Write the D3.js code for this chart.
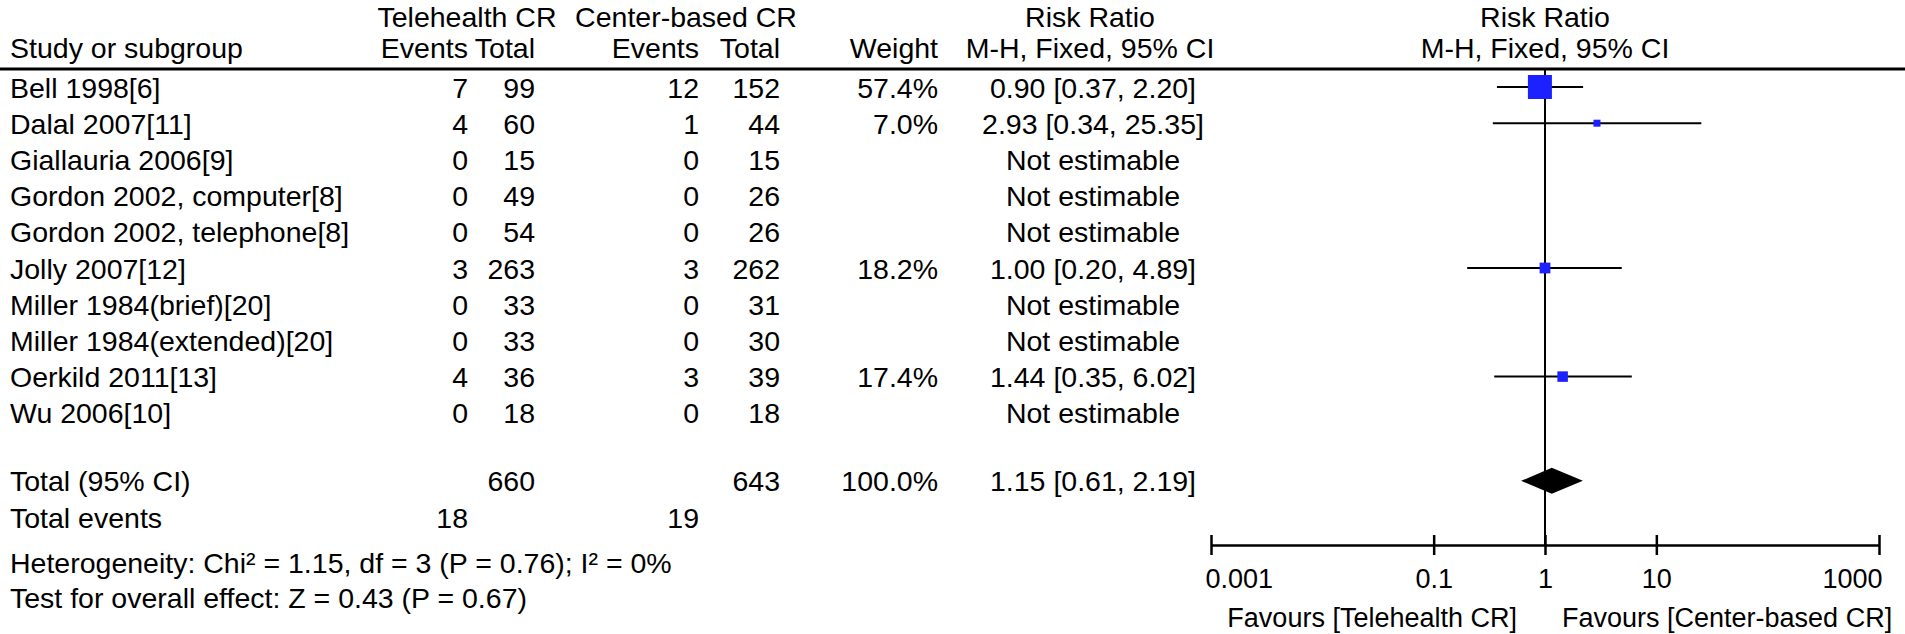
<!DOCTYPE html>
<html lang="en">
<head>
<meta charset="utf-8">
<script src="https://cdn.jsdelivr.net/npm/d3@7"></script>
<style>
  body { margin: 0; background: #fff; }
  svg text { font-family: "Liberation Sans", Arial, Helvetica, sans-serif; font-size: 28.5px; fill: #000; }
  svg .small text, svg text.small { font-size: 27px; }
</style>
</head>
<body>
<div id="chart"></div>
<script>
// study rows
var studies = ["Bell 1998[6]", "Dalal 2007[11]", "Giallauria 2006[9]", "Gordon 2002, computer[8]",
  "Gordon 2002, telephone[8]", "Jolly 2007[12]", "Miller 1984(brief)[20]", "Miller 1984(extended)[20]",
  "Oerkild 2011[13]", "Wu 2006[10]"];
var teleEvents   = [7, 4, 0, 0, 0, 3, 0, 0, 4, 0];
var teleTotal    = [99, 60, 15, 49, 54, 263, 33, 33, 36, 18];
var centerEvents = [12, 1, 0, 0, 0, 3, 0, 0, 3, 0];
var centerTotal  = [152, 44, 15, 26, 26, 262, 31, 30, 39, 18];
var weights      = [57.4, 7.0, null, null, null, 18.2, null, null, 17.4, null];
var riskRatio    = [0.90, 2.93, null, null, null, 1.00, null, null, 1.44, null];
var ciLower      = [0.37, 0.34, null, null, null, 0.20, null, null, 0.35, null];
var ciUpper      = [2.20, 25.35, null, null, null, 4.89, null, null, 6.02, null];

// pooled result
var pooled = {rr: 1.15, lo: 0.61, hi: 2.19, teleTotal: 660, centerTotal: 643, weight: 100.0,
  teleEvents: 18, centerEvents: 19};
var heterogeneity = "Heterogeneity: Chi\u00b2 = 1.15, df = 3 (P = 0.76); I\u00b2 = 0%";
var overallEffect = "Test for overall effect: Z = 0.43 (P = 0.67)";

var axisTicks = [0.001, 0.1, 1, 10, 1000];
var favourLeft = "Favours [Telehealth CR]";
var favourRight = "Favours [Center-based CR]";

var w = 1905, h = 634;
var svg = d3.select("#chart").append("svg").attr("width", w).attr("height", h);

//column x positions
var colStudy = 10, colTeleEv = 468, colTeleTot = 535, colCenEv = 699, colCenTot = 780,
    colWeight = 938, colRR = 1093, colPlot = 1545;

var x = d3.scaleLog().domain([0.001, 1000]).range([1211, 1879]);
var y = d3.scaleLinear().domain([0, 1]).range([87, 123.2]); // row index -> centre
var size = d3.scaleLinear().domain([7, 57.4]).range([7, 24]);
var f2 = d3.format(".2f"), f1 = d3.format(".1f");
var base = 10.5; // baseline offset from row centre

function txt(xp, yp, s, anchor) {
  return svg.append("text").attr("x", xp).attr("y", yp).attr("text-anchor", anchor || "start").text(s);
}

//headers
txt(467, 26.5, "Telehealth CR", "middle");
txt(686, 26.5, "Center-based CR", "middle");
txt(colRR - 3, 26.5, "Risk Ratio", "middle");
txt(colPlot, 26.5, "Risk Ratio", "middle");
txt(colStudy, 58, "Study or subgroup");
txt(colTeleEv, 58, "Events", "end");
txt(colTeleTot, 58, "Total", "end");
txt(colCenEv, 58, "Events", "end");
txt(colCenTot, 58, "Total", "end");
txt(colWeight, 58, "Weight", "end");
txt(colRR - 3, 58, "M-H, Fixed, 95% CI", "middle");
txt(colPlot, 58, "M-H, Fixed, 95% CI", "middle");

svg.append("line").attr("x1", 0).attr("x2", w).attr("y1", 69).attr("y2", 69)
  .attr("stroke", "#000").attr("stroke-width", 3);

//vertical line of no effect
svg.append("line").attr("x1", x(1)).attr("x2", x(1)).attr("y1", 69).attr("y2", 545)
  .attr("stroke", "#000").attr("stroke-width", 2);

//study rows
studies.forEach(function (s, i) {
  var yb = y(i) + base;
  txt(colStudy, yb, s);
  txt(colTeleEv, yb, teleEvents[i], "end");
  txt(colTeleTot, yb, teleTotal[i], "end");
  txt(colCenEv, yb, centerEvents[i], "end");
  txt(colCenTot, yb, centerTotal[i], "end");
  if (weights[i] != null) {
    txt(colWeight, yb, f1(weights[i]) + "%", "end");
    txt(colRR, yb, f2(riskRatio[i]) + " [" + f2(ciLower[i]) + ", " + f2(ciUpper[i]) + "]", "middle");
  } else {
    txt(colRR, yb, "Not estimable", "middle");
  }
});

var est = d3.range(studies.length).filter(function (i) { return riskRatio[i] != null; });

svg.selectAll("line.ci").data(est).enter().append("line").attr("class", "ci")
  .attr("x1", function (i) { return x(ciLower[i]); })
  .attr("x2", function (i) { return x(ciUpper[i]); })
  .attr("y1", function (i) { return y(i); })
  .attr("y2", function (i) { return y(i); })
  .attr("stroke", "#000").attr("stroke-width", 2);

svg.selectAll("rect.sq").data(est).enter().append("rect").attr("class", "sq")
  .attr("x", function (i) { return x(riskRatio[i]) - size(weights[i]) / 2; })
  .attr("y", function (i) { return y(i) - size(weights[i]) / 2; })
  .attr("width", function (i) { return size(weights[i]); })
  .attr("height", function (i) { return size(weights[i]); })
  .attr("fill", "#1c22ff");

//total rows
var yt = y(10.88), ye = y(11.9);
txt(colStudy, yt + base, "Total (95% CI)");
txt(colTeleTot, yt + base, pooled.teleTotal, "end");
txt(colCenTot, yt + base, pooled.centerTotal, "end");
txt(colWeight, yt + base, f1(pooled.weight) + "%", "end");
txt(colRR, yt + base, f2(pooled.rr) + " [" + f2(pooled.lo) + ", " + f2(pooled.hi) + "]", "middle");
txt(colStudy, ye + base, "Total events");
txt(colTeleEv, ye + base, pooled.teleEvents, "end");
txt(colCenEv, ye + base, pooled.centerEvents, "end");
txt(colStudy, 573, heterogeneity);
txt(colStudy, 608, overallEffect);

svg.append("path")
  .attr("d", "M" + x(pooled.lo) + "," + yt + "L" + x(pooled.rr) + "," + (yt - 13) +
    "L" + x(pooled.hi) + "," + yt + "L" + x(pooled.rr) + "," + (yt + 13) + "Z")
  .attr("fill", "#000");

//axis
var axisG = svg.append("g").attr("class", "small").attr("transform", "translate(0,545)")
  .call(d3.axisBottom(x).tickValues(axisTicks).tickFormat(function (d) { return String(d); })
    .tickSizeInner(10).tickSizeOuter(0).tickPadding(28));
axisG.select(".domain").attr("stroke-width", 2.5);
axisG.selectAll(".tick line").attr("y1", -10).attr("stroke-width", 2.5);
axisG.selectAll(".tick text").attr("font-size", null).attr("font-family", null).attr("dy", "0.2em");
axisG.selectAll(".tick text").filter(function (d) { return d === axisTicks[0]; })
  .attr("text-anchor", "start").attr("dx", -6);
axisG.selectAll(".tick text").filter(function (d) { return d === axisTicks[axisTicks.length - 1]; })
  .attr("text-anchor", "end").attr("dx", 3);

txt(x(1) - 28, 627, favourLeft, "end").attr("class", "small");
txt(x(1) + 17, 627, favourRight, "start").attr("class", "small");
</script>
</body>
</html>
